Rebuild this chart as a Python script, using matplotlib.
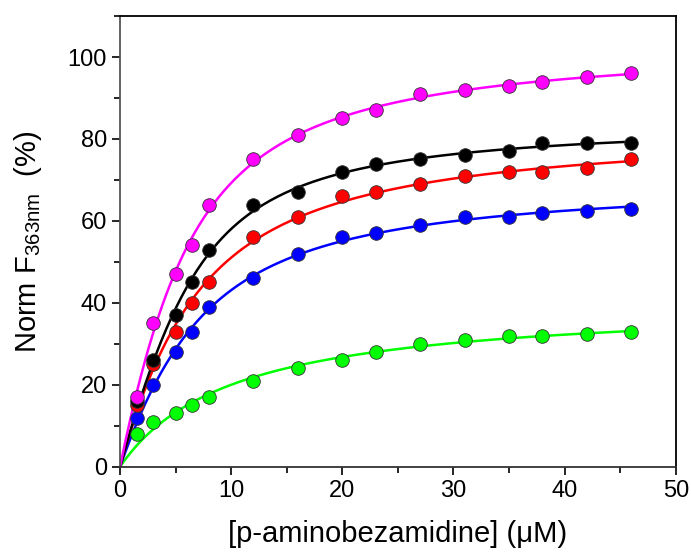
import numpy as np
import matplotlib
matplotlib.use("Agg")
import matplotlib.pyplot as plt
from matplotlib.ticker import MultipleLocator

plt.rcParams["font.family"] = ["Liberation Sans", "DejaVu Sans"]
plt.rcParams["mathtext.default"] = "regular"

# ligand concentration (uM)
conc = [1.5, 3, 5, 6.5, 8, 12, 16, 20, 23, 27, 31, 35, 38, 42, 46]

magenta_y = [17, 35, 47, 54, 64, 75, 81, 85, 87, 91, 92, 93, 94, 95, 96]
black_y = [16, 26, 37, 45, 53, 64, 67, 72, 74, 75, 76, 77, 79, 79, 79]
red_y = [15, 25, 33, 40, 45, 56, 61, 66, 67, 69, 71, 72, 72, 73, 75]
blue_y = [12, 20, 28, 33, 39, 46, 52, 56, 57, 59, 61, 61, 62, 62.5, 63]
green_y = [8, 11, 13, 15, 17, 21, 24, 26, 28, 30, 31, 32, 32, 32.5, 33]

series = [
    (green_y, "#00ff00"),
    (blue_y, "#0000ff"),
    (red_y, "#ff0000"),
    (black_y, "#000000"),
    (magenta_y, "#ff00ff"),
]


def bound_frac(x, kd, p):
    # quadratic (ligand depletion) binding, -> x/(kd+x) when p -> 0
    if p < 1e-6:
        return x / (kd + x)
    s = p + x + kd
    return (s - np.sqrt(s * s - 4 * p * x)) / (2 * p)


def fit_binding(x, y):
    x = np.asarray(x, float)
    y = np.asarray(y, float)
    best = None
    for kd in np.linspace(0.05, 20, 400):
        for p in np.linspace(0, 30, 121):
            f = bound_frac(x, kd, p)
            bmax = (f @ y) / (f @ f)
            err = np.sum((y - bmax * f) ** 2)
            if best is None or err < best[0]:
                best = (err, bmax, kd, p)
    return best[1:]


fig = plt.figure(figsize=(6.91, 5.53), dpi=100)
ax = fig.add_axes([0.1737, 0.156, 0.8043, 0.815])

xs = np.linspace(0, 46, 300)
for y, c in series:
    bmax, kd, p = fit_binding(conc, y)
    ax.plot(xs, bmax * bound_frac(xs, kd, p), color=c, lw=1.8, zorder=2)
for y, c in series:
    ax.plot(conc, y, "o", color=c, ms=9.8, mec="#333333", mew=0.6, zorder=3)

ax.set_xlim(0, 50)
ax.set_ylim(0, 110)
ax.xaxis.set_major_locator(MultipleLocator(10))
ax.xaxis.set_minor_locator(MultipleLocator(5))
ax.yaxis.set_major_locator(MultipleLocator(20))
ax.yaxis.set_minor_locator(MultipleLocator(10))
ax.tick_params(which="both", direction="out", labelsize=17, width=1.2, top=False, right=False)
ax.tick_params(which="major", length=6)
ax.tick_params(which="minor", length=4)
for s in ax.spines.values():
    s.set_linewidth(1.3)
ax.spines["left"].set_color("#555555")
ax.spines["bottom"].set_color("#333333")

ax.set_xlabel("[p-aminobezamidine] (\u03bcM)", fontsize=21, labelpad=13)
ax.set_ylabel("Norm F$_{363nm}$  (%)", fontsize=21, labelpad=17)

fig.savefig("out.png", dpi=100)
